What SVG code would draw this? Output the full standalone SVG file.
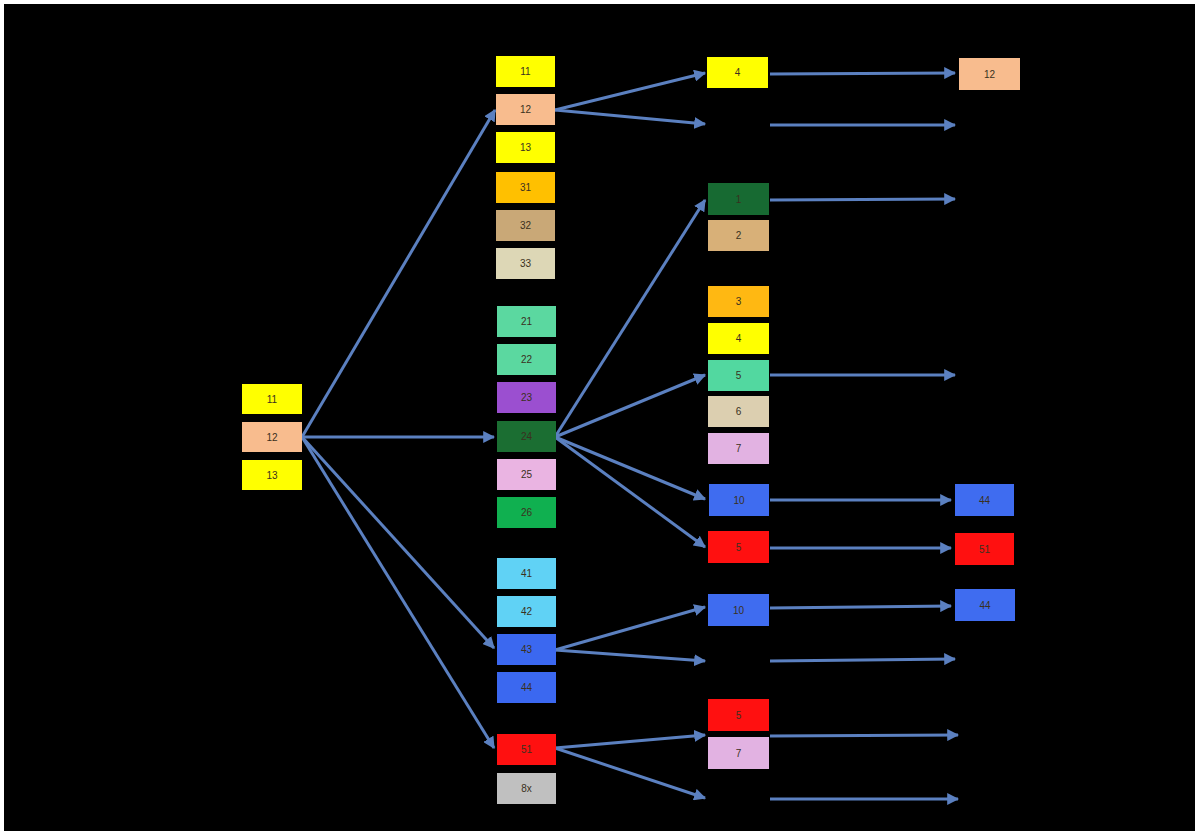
<svg xmlns="http://www.w3.org/2000/svg" width="1195" height="831" viewBox="0 0 1195 831">
<style>
text{font-family:"Liberation Sans",Arial,sans-serif;font-size:10px;fill:#3a3020;text-anchor:middle;dominant-baseline:central}
.c line{stroke:#5b80c0;stroke-width:3;marker-end:url(#ah)}
</style>
<defs>
<marker id="ah" viewBox="0 0 10 10" refX="9" refY="5" markerWidth="4" markerHeight="4" orient="auto" markerUnits="strokeWidth"><path d="M0,0L10,5L0,10z" fill="#5b80c0"/></marker>
</defs>
<rect x="0" y="0" width="1195" height="831" fill="#ffffff"/>
<rect x="4" y="4" width="1191" height="827" fill="#000000"/>
<g class="c" id="connectors">
<line x1="302" y1="437" x2="495" y2="110"/>
<line x1="302" y1="437" x2="494" y2="437"/>
<line x1="302" y1="437" x2="494" y2="648"/>
<line x1="302" y1="437" x2="494" y2="748"/>
<line x1="555" y1="110" x2="705" y2="73"/>
<line x1="555" y1="110" x2="705" y2="124"/>
<line x1="555" y1="437" x2="705" y2="200"/>
<line x1="555" y1="437" x2="705" y2="375"/>
<line x1="555" y1="437" x2="705" y2="499"/>
<line x1="555" y1="437" x2="705" y2="547"/>
<line x1="555" y1="650" x2="705" y2="607"/>
<line x1="555" y1="650" x2="705" y2="661"/>
<line x1="555" y1="748" x2="705" y2="735"/>
<line x1="555" y1="748" x2="705" y2="798"/>
<line x1="770" y1="74" x2="955" y2="73"/>
<line x1="770" y1="125" x2="955" y2="125"/>
<line x1="770" y1="200" x2="955" y2="199"/>
<line x1="770" y1="375" x2="955" y2="375"/>
<line x1="770" y1="500" x2="951" y2="500"/>
<line x1="770" y1="548" x2="951" y2="548"/>
<line x1="770" y1="608" x2="951" y2="606"/>
<line x1="770" y1="661" x2="955" y2="659"/>
<line x1="770" y1="736" x2="958" y2="735"/>
<line x1="770" y1="799" x2="958" y2="799"/>
</g>
<g id="l11"><rect x="242" y="384" width="60" height="30" fill="#ffff00"/><text x="272" y="399">11</text></g>
<g id="l12"><rect x="242" y="422" width="60" height="30" fill="#f8bc8e"/><text x="272" y="437">12</text></g>
<g id="l13"><rect x="242" y="460" width="60" height="30" fill="#ffff00"/><text x="272" y="475">13</text></g>

<g id="m11"><rect x="496" y="56" width="59" height="31" fill="#ffff00"/><text x="525.5" y="71.5">11</text></g>
<g id="m12"><rect x="496" y="94" width="59" height="31" fill="#f8bc8e"/><text x="525.5" y="109.5">12</text></g>
<g id="m13"><rect x="496" y="132" width="59" height="31" fill="#ffff00"/><text x="525.5" y="147.5">13</text></g>
<g id="m31"><rect x="496" y="172" width="59" height="31" fill="#ffc000"/><text x="525.5" y="187.5">31</text></g>
<g id="m32"><rect x="496" y="210" width="59" height="31" fill="#c9a877"/><text x="525.5" y="225.5">32</text></g>
<g id="m33"><rect x="496" y="248" width="59" height="31" fill="#ddd7b6"/><text x="525.5" y="263.5">33</text></g>
<g id="m21"><rect x="497" y="306" width="59" height="31" fill="#5bd8a0"/><text x="526.5" y="321.5">21</text></g>
<g id="m22"><rect x="497" y="344" width="59" height="31" fill="#5bd8a0"/><text x="526.5" y="359.5">22</text></g>
<g id="m23"><rect x="497" y="382" width="59" height="31" fill="#9b4fd0"/><text x="526.5" y="397.5">23</text></g>
<g id="m24"><rect x="497" y="421" width="59" height="31" fill="#1b6e32"/><text x="526.5" y="436.5">24</text></g>
<g id="m25"><rect x="497" y="459" width="59" height="31" fill="#eab4e2"/><text x="526.5" y="474.5">25</text></g>
<g id="m26"><rect x="497" y="497" width="59" height="31" fill="#10b050"/><text x="526.5" y="512.5">26</text></g>
<g id="m41"><rect x="497" y="558" width="59" height="31" fill="#60d2f5"/><text x="526.5" y="573.5">41</text></g>
<g id="m42"><rect x="497" y="596" width="59" height="31" fill="#60d2f5"/><text x="526.5" y="611.5">42</text></g>
<g id="m43"><rect x="497" y="634" width="59" height="31" fill="#3b68f0"/><text x="526.5" y="649.5">43</text></g>
<g id="m44"><rect x="497" y="672" width="59" height="31" fill="#3b68f0"/><text x="526.5" y="687.5">44</text></g>
<g id="m51"><rect x="497" y="734" width="59" height="31" fill="#ff1010"/><text x="526.5" y="749.5">51</text></g>
<g id="m8x"><rect x="497" y="773" width="59" height="31" fill="#c0c0c0"/><text x="526.5" y="788.5">8x</text></g>

<g id="r4a"><rect x="707" y="57" width="61" height="31" fill="#ffff00"/><text x="737.5" y="72.5">4</text></g>
<g id="r1"><rect x="708" y="183" width="61" height="32" fill="#176a32"/><text x="738.5" y="199">1</text></g>
<g id="r2"><rect x="708" y="220" width="61" height="31" fill="#d8b078"/><text x="738.5" y="235.5">2</text></g>
<g id="r3"><rect x="708" y="286" width="61" height="31" fill="#ffb812"/><text x="738.5" y="301.5">3</text></g>
<g id="r4b"><rect x="708" y="323" width="61" height="31" fill="#ffff00"/><text x="738.5" y="338.5">4</text></g>
<g id="r5"><rect x="708" y="360" width="61" height="31" fill="#52d8a0"/><text x="738.5" y="375.5">5</text></g>
<g id="r6"><rect x="708" y="396" width="61" height="31" fill="#dccfb0"/><text x="738.5" y="411.5">6</text></g>
<g id="r7a"><rect x="708" y="433" width="61" height="31" fill="#e2b2e2"/><text x="738.5" y="448.5">7</text></g>
<g id="r10a"><rect x="709" y="484" width="60" height="32" fill="#3f6cf0"/><text x="739" y="500">10</text></g>
<g id="r5a"><rect x="708" y="531" width="61" height="32" fill="#ff1010"/><text x="738.5" y="547">5</text></g>
<g id="r10b"><rect x="708" y="594" width="61" height="32" fill="#3f6cf0"/><text x="738.5" y="610">10</text></g>
<g id="r5b"><rect x="708" y="699" width="61" height="32" fill="#ff1010"/><text x="738.5" y="715">5</text></g>
<g id="r7b"><rect x="708" y="737" width="61" height="32" fill="#e2b2e2"/><text x="738.5" y="753">7</text></g>

<g id="f12"><rect x="959" y="58" width="61" height="32" fill="#f8bc8e"/><text x="989.5" y="74">12</text></g>
<g id="f44a"><rect x="955" y="484" width="59" height="32" fill="#3f6cf0"/><text x="984.5" y="500">44</text></g>
<g id="f51"><rect x="955" y="533" width="59" height="32" fill="#ff1010"/><text x="984.5" y="549">51</text></g>
<g id="f44b"><rect x="955" y="589" width="60" height="32" fill="#3f6cf0"/><text x="985" y="605">44</text></g>
</svg>
